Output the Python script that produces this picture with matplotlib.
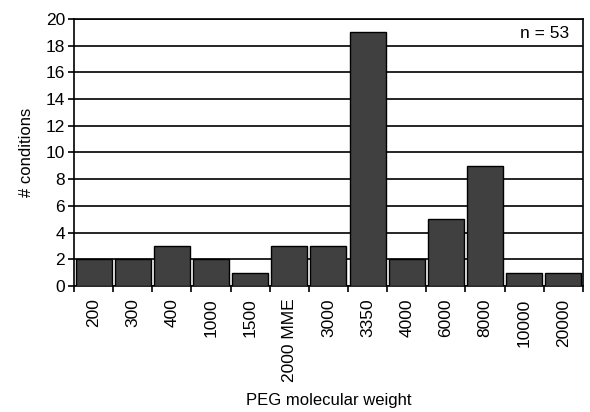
import numpy as np
import matplotlib.pyplot as plt

plt.rcParams['font.family'] = ['Liberation Sans', 'DejaVu Sans']

peg_labels = ['200', '300', '400', '1000', '1500', '2000 MME', '3000',
              '3350', '4000', '6000', '8000', '10000', '20000']
counts = [2, 2, 3, 2, 1, 3, 3, 19, 2, 5, 9, 1, 1]
y_ticks = list(range(0, 21, 2))

fig = plt.figure(figsize=(5.9, 4.12), dpi=100)
ax = fig.add_axes([0.1254, 0.306, 0.8626, 0.648])

x = np.arange(len(peg_labels))
ax.bar(x, counts, width=0.92, color='#404040', edgecolor='black', linewidth=1.0, zorder=3)

ax.set_xlim(-0.5, len(peg_labels) - 0.5)
ax.set_ylim(0, 20)
ax.set_yticks(y_ticks)
ax.yaxis.grid(True, color='black', linewidth=1.2, zorder=0)

ax.set_xticks(x)
ax.set_xticklabels(peg_labels, rotation=90, fontsize=12.5)
ax.tick_params(axis='x', which='major', length=0, pad=9)
ax.set_xticks(np.arange(-0.5, len(peg_labels)), minor=True)
ax.tick_params(axis='x', which='minor', length=4.5, width=1.2, direction='out')
ax.tick_params(axis='y', length=4.5, width=1.2, direction='out', labelsize=12.5, pad=2)

for s in ax.spines.values():
    s.set_linewidth(1.2)

ax.set_ylabel('# conditions', fontsize=12, labelpad=8)
ax.set_xlabel('PEG molecular weight', fontsize=12, labelpad=8)
ax.text(0.973, 0.975, 'n = 53', transform=ax.transAxes, ha='right', va='top', fontsize=12.5)

fig.savefig('out.png', dpi=100)
